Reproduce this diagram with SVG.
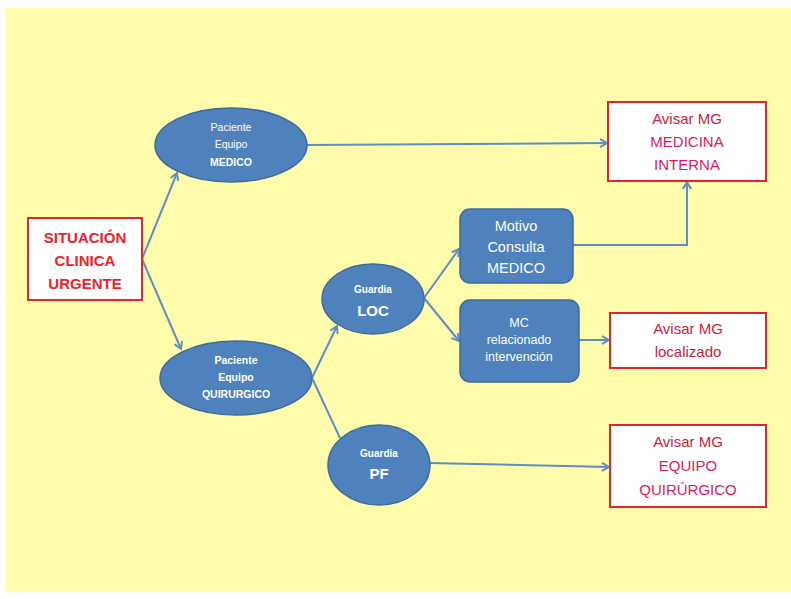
<svg xmlns="http://www.w3.org/2000/svg" width="791" height="599" viewBox="0 0 791 599">
<style>
.n{fill:#4F81BD;stroke:#3E6B9F;stroke-width:1.5}
.r{fill:#FFFFFF;stroke:#E0262C;stroke-width:2}
.c{fill:none;stroke:#5E8FC4;stroke-width:2}
.t{font-family:"Liberation Sans",Arial,sans-serif;text-anchor:middle}
.w{fill:#FFFFFF}
.red{fill:#F0202A;font-weight:bold;font-size:15px}
.av{fill:#C41E3A;font-size:15px}
.mg{fill:#D81B60;font-size:15px}
</style>
<defs>
<marker id="a" markerWidth="10" markerHeight="10" refX="8" refY="5" orient="auto" markerUnits="userSpaceOnUse">
<path d="M1,1 L8,5 L1,9" fill="none" stroke="#5E8FC4" stroke-width="2"/>
</marker>
</defs>
<rect x="5" y="8" width="786" height="584" fill="#FFFDAB"/>
<g id="connectors">
<path class="c" d="M142,259 L177,173" marker-end="url(#a)"/>
<path class="c" d="M142,259 L181,349" marker-end="url(#a)"/>
<path class="c" d="M307,145 L607,143" marker-end="url(#a)"/>
<path class="c" d="M312,378 L337,326" marker-end="url(#a)"/>
<path class="c" d="M312,378 L340,438"/>
<path class="c" d="M424,298 L459,249" marker-end="url(#a)"/>
<path class="c" d="M424,298 L459,341" marker-end="url(#a)"/>
<path class="c" d="M573,245 L687,245 L687,182" marker-end="url(#a)"/>
<path class="c" d="M579,340 L609,340" marker-end="url(#a)"/>
<path class="c" d="M430,463 L609,467" marker-end="url(#a)"/>
</g>
<g id="situacion">
<rect class="r" x="28" y="218" width="114" height="82"/>
<text class="t red" x="85" y="243">SITUACIÓN</text>
<text class="t red" x="85" y="266">CLINICA</text>
<text class="t red" x="85" y="289">URGENTE</text>
</g>
<g id="paciente-medico">
<ellipse class="n" cx="231" cy="145" rx="76" ry="37"/>
<text class="t w" x="231" y="131" font-size="10.5">Paciente</text>
<text class="t w" x="231" y="148" font-size="10.5">Equipo</text>
<text class="t w" x="231" y="166" font-size="10.5" font-weight="bold">MEDICO</text>
</g>
<g id="paciente-quirurgico">
<ellipse class="n" cx="236" cy="378" rx="76" ry="37"/>
<text class="t w" x="236" y="364" font-size="10.5" font-weight="bold">Paciente</text>
<text class="t w" x="236" y="381" font-size="10.5" font-weight="bold">Equipo</text>
<text class="t w" x="236" y="398" font-size="10.5" font-weight="bold">QUIRURGICO</text>
</g>
<g id="guardia-loc">
<ellipse class="n" cx="373" cy="299" rx="51" ry="35"/>
<text class="t w" x="373" y="293" font-size="10" font-weight="bold">Guardia</text>
<text class="t w" x="373" y="316" font-size="15" font-weight="bold">LOC</text>
</g>
<g id="guardia-pf">
<ellipse class="n" cx="379" cy="465" rx="51" ry="40"/>
<text class="t w" x="379" y="457" font-size="10" font-weight="bold">Guardia</text>
<text class="t w" x="379" y="479" font-size="15" font-weight="bold">PF</text>
</g>
<g id="motivo">
<rect class="n" x="460" y="209" width="113" height="74" rx="10"/>
<text class="t w" x="516" y="231" font-size="14.5">Motivo</text>
<text class="t w" x="516" y="252" font-size="14.5">Consulta</text>
<text class="t w" x="516" y="273" font-size="14.5">MEDICO</text>
</g>
<g id="mc">
<rect class="n" x="460" y="300" width="119" height="82" rx="10"/>
<text class="t w" x="519" y="327" font-size="12.5">MC</text>
<text class="t w" x="519" y="344" font-size="12.5">relacionado</text>
<text class="t w" x="519" y="361" font-size="12.5">intervención</text>
</g>
<g id="avisar-medicina">
<rect class="r" x="608" y="102" width="158" height="79"/>
<text class="t av" x="687" y="124">Avisar MG</text>
<text class="t mg" x="687" y="147">MEDICINA</text>
<text class="t mg" x="687" y="170">INTERNA</text>
</g>
<g id="avisar-localizado">
<rect class="r" x="610" y="313" width="156" height="55"/>
<text class="t av" x="688" y="334">Avisar MG</text>
<text class="t av" x="688" y="357">localizado</text>
</g>
<g id="avisar-equipo">
<rect class="r" x="610" y="425" width="156" height="82"/>
<text class="t av" x="688" y="447">Avisar MG</text>
<text class="t mg" x="688" y="471">EQUIPO</text>
<text class="t mg" x="688" y="495">QUIRÚRGICO</text>
</g>
</svg>
